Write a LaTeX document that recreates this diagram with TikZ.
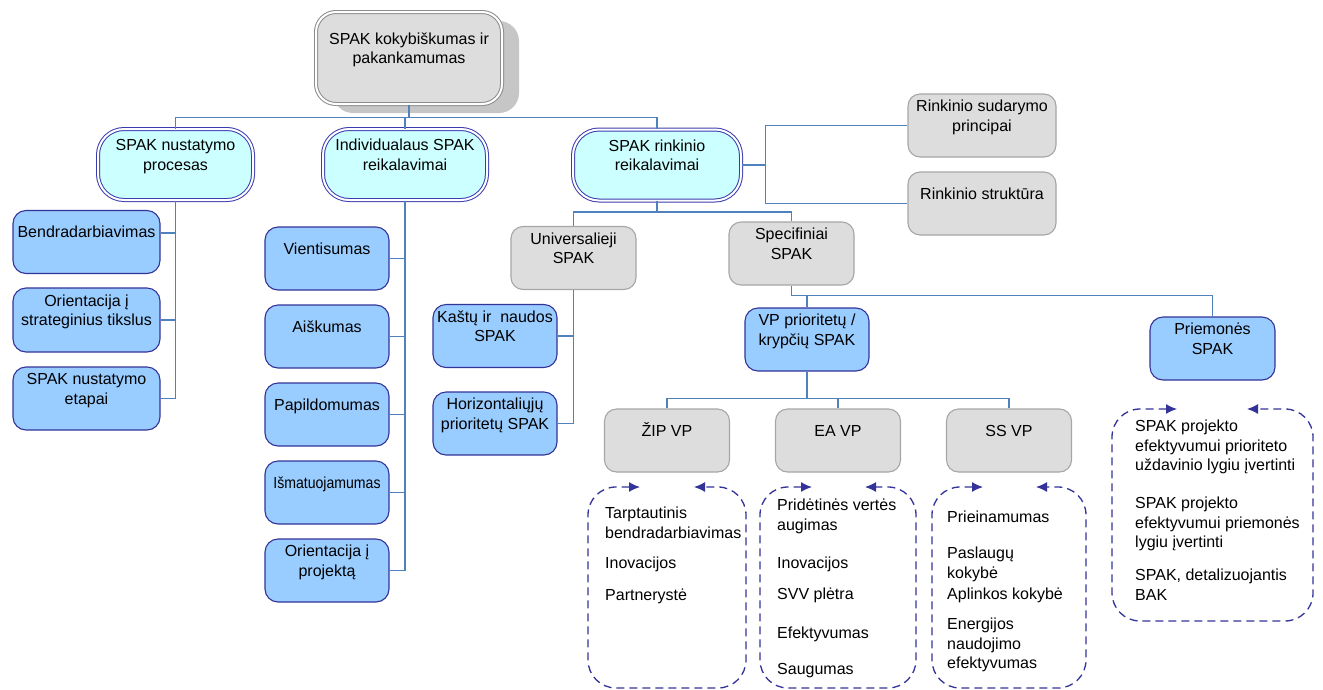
\documentclass[tikz,border=0pt]{standalone}
\usepackage{fontspec}
\setmainfont{Liberation Sans}
\usepackage{graphicx}
\usepackage{tikz}
\usetikzlibrary{arrows.meta}
\definecolor{connBlue}{HTML}{4F81BD}
\definecolor{leafFill}{HTML}{99CCFF}
\definecolor{leafLine}{HTML}{333399}
\definecolor{headFill}{HTML}{CCFFFF}
\definecolor{headLine}{HTML}{3B3BB0}
\definecolor{greyFill}{HTML}{DDDDDD}
\definecolor{greyLine}{HTML}{A6A6A6}
\definecolor{topLine}{HTML}{8C8C8C}
\definecolor{shadowGrey}{HTML}{C6C6C6}
\definecolor{loopBlue}{HTML}{333399}
\hyphenpenalty=10000
\exhyphenpenalty=10000
\tikzset{
  boxNode/.style={%
    rounded corners=12pt, line width=1.1pt, inner xsep=2pt, inner ysep=2pt,
    align=flush center, font=\fontsize{16}{19.5}\selectfont,
    execute at begin node=\strut,
    execute at end node={\strut\par\vspace*{16pt}},
  },
  leafNode/.style={%
    boxNode, fill=leafFill, draw=leafLine, rounded corners=13pt,
    minimum width=#1, text width=#1-4pt, minimum height=63pt,
  },
  leafNode/.default=124pt,
  greyNode/.style={%
    boxNode, fill=greyFill, draw=greyLine,
    minimum width=#1, text width=#1-4pt, minimum height=63pt,
  },
  greyNode/.default=125pt,
  headNode/.style={%
    boxNode, fill=headFill, draw=headLine, rounded corners=26pt,
    double=white, double distance=2pt, line width=1pt,
    minimum width=#1, text width=#1-4pt, minimum height=71pt,
  },
  topNode/.style={%
    boxNode, fill=greyFill, draw=topLine, rounded corners=20pt,
    double=white, double distance=2pt, line width=1pt,
    minimum width=186pt, text width=182pt, minimum height=92pt,
  },
  listNode/.style={%
    anchor=north west, align=left, inner sep=0pt,
    font=\fontsize{16}{19.5}\selectfont, execute at begin node=\strut,
  },
  connLine/.style={draw=connBlue, line width=1.6pt},
  loopLine/.style={%
    draw=loopBlue, line width=1.3pt, dash pattern=on 8pt off 5pt,
    rounded corners=28pt, >={Latex[length=11pt, width=10pt]}, <->,
  },
}
\begin{document}
\begin{tikzpicture}[x=1pt, y=-1pt]
                \useasboundingbox (0,0) rectangle (1323,689);
                \fill[shadowGrey, rounded corners=20pt] (333,21) rectangle (519,113);
                \node[topNode]
                  (quality) at (409,58) {SPAK kokybiškumas ir\\pakankamumas};
                \node[headNode=155pt]
                  (process) at (175.5,164.5) {SPAK nustatymo\\procesas};
                \node[headNode=164pt]
                  (single) at (405,164.5) {Individualaus SPAK\\reikalavimai};
                \node[headNode=168pt]
                  (set) at (657,165) {SPAK rinkinio\\reikalavimai};
                \node[greyNode=148pt]
                  (principles) at (982,125.5) {Rinkinio sudarymo\\principai};
                \node[greyNode=148pt]
                  (structure) at (982,203.5) {Rinkinio struktūra};
                \node[leafNode=147pt]
                  (coop) at (86.5,242) {Bendradarbiavimas};
                \node[leafNode=147pt, minimum height=64pt]
                  (goals) at (86.5,320) {Orientacija į\\strateginius tikslus};
                \node[leafNode=147pt]
                  (stages) at (86.5,398.5) {SPAK nustatymo\\etapai};
                \node[leafNode]
                  (integrity) at (327,258.5) {Vientisumas};
                \node[leafNode]
                  (clarity) at (327,336.5) {Aiškumas};
                \node[leafNode]
                  (complement) at (327,414.5) {Papildomumas};
                \node[leafNode]
                  (measurable) at (327,492.5) {\scalebox{0.88}[1]{Išmatuojamumas}};
                \node[leafNode]
                  (project) at (327,570.5) {Orientacija į\\projektą};
                \node[greyNode]
                  (universal) at (573.5,258) {Universalieji\\SPAK};
                \node[greyNode]
                  (specific) at (791.5,253.5) {Specifiniai\\SPAK};
                \node[leafNode]
                  (costbenefit) at (495,336) {Kaštų ir\ \ naudos\\SPAK};
                \node[leafNode]
                  (horizontal) at (495,423.5) {Horizontaliųjų\\prioritetų SPAK};
                \node[leafNode]
                  (priority) at (807,339.5) {VP prioritetų /\\krypčių SPAK};
                \node[leafNode=125pt]
                  (measure) at (1212.5,348.5) {Priemonės\\SPAK};
                \node[greyNode]
                  (zip) at (667,440.5) {ŽIP VP};
                \node[greyNode]
                  (ea) at (838,440.5) {EA VP};
                \node[greyNode]
                  (ss) at (1009,440.5) {SS VP};
                \draw[connLine]
                  (quality.south) -- ++(0,13) coordinate (busTop)
                  (busTop) -| (process.north)
                  (busTop) -| (single.north)
                  (busTop) -| (set.north)
                  ;
                \draw[connLine]
                  (set.east) -- ++(24,0) coordinate (busSet)
                  (busSet) |- (principles.west)
                  (busSet) |- (structure.west)
                  ;
                \draw[connLine]
                  (process.south) |- ([yshift=9pt]coop.east)
                  (process.south) |- (goals.east)
                  (process.south) |- (stages.east)
                  ;
                \draw[connLine]
                  (single.south) |- (integrity.east)
                  (single.south) |- (clarity.east)
                  (single.south) |- (complement.east)
                  (single.south) |- (measurable.east)
                  (single.south) |- (project.east)
                  ;
                \draw[connLine]
                  (set.south) -- ++(0,11) coordinate (busKind)
                  (busKind) -| (universal.north)
                  (busKind) -| (specific.north)
                  ;
                \draw[connLine]
                  (universal.south) |- (costbenefit.east)
                  (universal.south) |- (horizontal.east)
                  ;
                \draw[connLine]
                  (specific.south) -- ++(0,10) coordinate (busSpec)
                  (busSpec) -| (priority.north)
                  (busSpec) -| (measure.north)
                  ;
                \draw[connLine]
                  (priority.south) -- ++(0,27) coordinate (busVP)
                  (busVP) -| (zip.north)
                  (busVP) -| (ea.north)
                  (busVP) -| (ss.north)
                  ;
                \draw[loopLine]
                  (640,487) -- (588,487) -- (588,688) -- (746,688) -- (746,487) -- (694,487);
                \draw[loopLine]
                  (812,487) -- (760,487) -- (760,688) -- (916,688) -- (916,487) -- (865,487);
                \draw[loopLine]
                  (983,487) -- (932,487) -- (932,688) -- (1086,688) -- (1086,487) -- (1036,487);
                \draw[loopLine]
                  (1177,409) -- (1112,409) -- (1112,621) -- (1313,621) -- (1313,409) -- (1247,409);
                \node[listNode]
                  (zip1) at (605,507) {Tarptautinis\\bendradarbiavimas};
                \node[listNode]
                  (zip2) at (605,555) {Inovacijos};
                \node[listNode]
                  (zip3) at (605,587) {Partnerystė};
                \node[listNode]
                  (ea1) at (777,499) {Pridėtinės vertės\\augimas};
                \node[listNode]
                  (ea2) at (777,555) {Inovacijos};
                \node[listNode]
                  (ea3) at (777,586) {SVV plėtra};
                \node[listNode]
                  (ea4) at (777,625) {Efektyvumas};
                \node[listNode]
                  (ea5) at (777,661) {Saugumas};
                \node[listNode]
                  (ss1) at (947,509) {Prieinamumas};
                \node[listNode]
                  (ss2) at (947,547) {Paslaugų\\kokybė};
                \node[listNode]
                  (ss3) at (947,586) {Aplinkos kokybė};
                \node[listNode]
                  (ss4) at (947,618) {Energijos\\naudojimo\\efektyvumas};
                \node[listNode]
                  (pr1) at (1135,420) {SPAK projekto\\efektyvumui prioriteto\\uždavinio lygiu įvertinti};
                \node[listNode]
                  (pr2) at (1135,497) {SPAK projekto\\efektyvumui priemonės\\lygiu įvertinti};
                \node[listNode]
                  (pr3) at (1135,569) {SPAK, detalizuojantis\\BAK};
              \end{tikzpicture}
\end{document}
